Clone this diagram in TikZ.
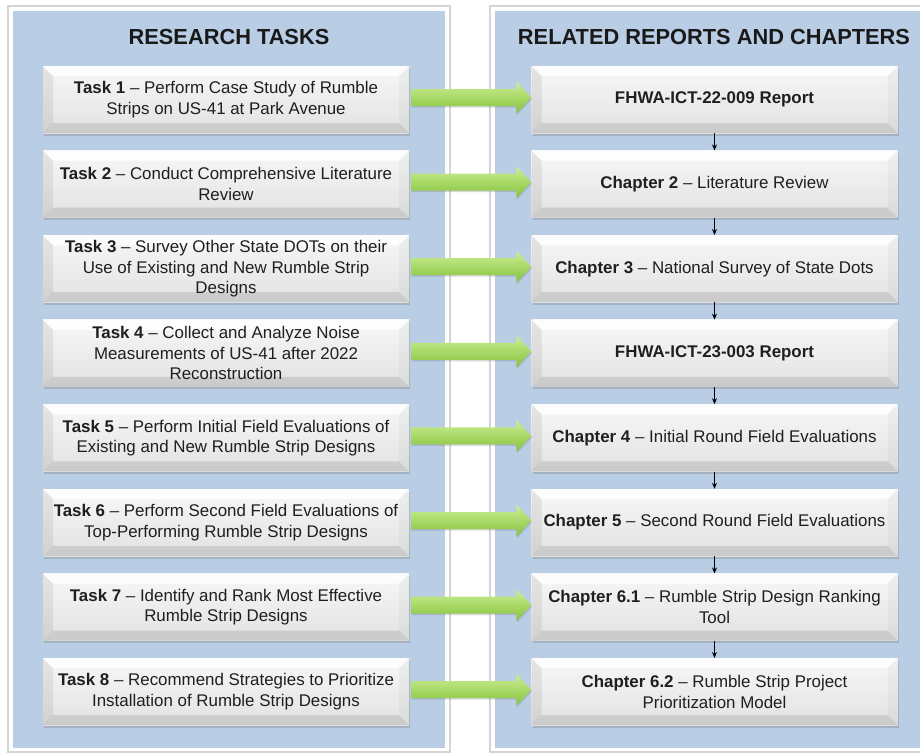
\documentclass[tikz,border=0pt]{standalone}
\usepackage{fontspec}
\setmainfont{Liberation Sans}
\usetikzlibrary{calc,shadows,arrows.meta}

\definecolor{panelblue}{HTML}{B9CDE5}
\definecolor{framegray}{HTML}{D4D4D4}
\definecolor{boxtop}{HTML}{F7F7F7}
\definecolor{boxbot}{HTML}{E2E2E2}
\definecolor{arrowlight}{HTML}{CDEF95}
\definecolor{arrowdark}{HTML}{84C23A}

\tikzset{
  frame/.style={fill=white, draw=framegray, line width=1.2pt},
  panel/.style={fill=panelblue, draw=none},
  heading/.style={font=\bfseries\fontsize{21.8}{26}\selectfont, text=black!90, inner sep=0pt},
  bevelbox/.style={
    minimum width=366pt, minimum height=67pt, inner sep=0pt, align=center,
    text=black!88, font=\fontsize{16.9}{20.5}\selectfont,
    top color=boxtop, bottom color=boxbot,
    drop shadow={shadow xshift=1pt, shadow yshift=-2.5pt, opacity=0.35},
    path picture={
      \fill[white, opacity=0.85]
        (path picture bounding box.north west) -- (path picture bounding box.north east)
        -- ([shift={(-10pt,-10pt)}]path picture bounding box.north east)
        -- ([shift={(10pt,-10pt)}]path picture bounding box.north west) -- cycle;
      \fill[black, opacity=0.07]
        (path picture bounding box.north west) -- (path picture bounding box.south west)
        -- ([shift={(10pt,10pt)}]path picture bounding box.south west)
        -- ([shift={(10pt,-10pt)}]path picture bounding box.north west) -- cycle;
      \fill[black, opacity=0.03]
        (path picture bounding box.north east) -- (path picture bounding box.south east)
        -- ([shift={(-10pt,10pt)}]path picture bounding box.south east)
        -- ([shift={(-10pt,-10pt)}]path picture bounding box.north east) -- cycle;
      \fill[black, opacity=0.10]
        (path picture bounding box.south west) -- (path picture bounding box.south east)
        -- ([shift={(-10pt,10pt)}]path picture bounding box.south east)
        -- ([shift={(10pt,10pt)}]path picture bounding box.south west) -- cycle;
    }},
  fatarrow/.style={
    top color=arrowlight, bottom color=arrowdark, draw=none,
    drop shadow={shadow xshift=0.8pt, shadow yshift=-1.5pt, opacity=0.3},
    to path={let \p1=(\tikztostart), \p2=(\tikztotarget) in
      (\x1+2pt,\y1+10.5pt) -- (\x2-15pt,\y1+10.5pt) -- (\x2-15pt,\y1+18pt)
      -- (\x2,\y1+2pt) -- (\x2-15pt,\y1-14pt) -- (\x2-15pt,\y1-6.5pt)
      -- (\x1+2pt,\y1-6.5pt) -- cycle}},
  steplink/.style={-{Stealth[length=6pt,width=5pt]}, line width=0.9pt, black},
}

\begin{document}
\begin{tikzpicture}[x=1pt, y=-1pt]
  \clip (0,0) rectangle (920,753);
  \fill[white] (0,0) rectangle (920,753);

  % column backgrounds
  \draw[frame] (8,6) rectangle (450,752);
  \draw[frame] (490,6) rectangle (930,752);
  \fill[panel] (13,11) rectangle (445,748);
  \fill[panel] (495,11) rectangle (930,748);

  % column headings
  \node[heading] (hleft)  at (229,37) {RESEARCH TASKS};
  \node[heading] (hright) at (714,37) {RELATED REPORTS AND CHAPTERS};

  % research tasks
  \node[bevelbox] (t1) at (226,99.5)  {\textbf{Task 1} – Perform Case Study of Rumble\\Strips on US-41 at Park Avenue};
  \node[bevelbox] (t2) at (226,184.1) {\textbf{Task 2} – Conduct Comprehensive Literature\\Review};
  \node[bevelbox] (t3) at (226,268.7) {\textbf{Task 3} – Survey Other State DOTs on their\\Use of Existing and New Rumble Strip\\Designs};
  \node[bevelbox] (t4) at (226,353.3) {\textbf{Task 4} – Collect and Analyze Noise\\Measurements of US-41 after 2022\\Reconstruction};
  \node[bevelbox] (t5) at (226,437.9) {\textbf{Task 5} – Perform Initial Field Evaluations of\\Existing and New Rumble Strip Designs};
  \node[bevelbox] (t6) at (226,522.5) {\textbf{Task 6} – Perform Second Field Evaluations of\\Top-Performing Rumble Strip Designs};
  \node[bevelbox] (t7) at (226,607.1) {\textbf{Task 7} – Identify and Rank Most Effective\\Rumble Strip Designs};
  \node[bevelbox] (t8) at (226,691.7) {\textbf{Task 8} – Recommend Strategies to Prioritize\\Installation of Rumble Strip Designs};

  % reports and chapters
  \node[bevelbox] (r1) at (714.5,99.5)  {\textbf{FHWA-ICT-22-009 Report}};
  \node[bevelbox] (r2) at (714.5,184.1) {\textbf{Chapter 2} – Literature Review};
  \node[bevelbox] (r3) at (714.5,268.7) {\textbf{Chapter 3} – National Survey of State Dots};
  \node[bevelbox] (r4) at (714.5,353.3) {\textbf{FHWA-ICT-23-003 Report}};
  \node[bevelbox] (r5) at (714.5,437.9) {\textbf{Chapter 4} – Initial Round Field Evaluations};
  \node[bevelbox] (r6) at (714.5,522.5) {\textbf{Chapter 5} – Second Round Field Evaluations};
  \node[bevelbox] (r7) at (714.5,607.1) {\textbf{Chapter 6.1} – Rumble Strip Design Ranking\\Tool};
  \node[bevelbox] (r8) at (714.5,691.7) {\textbf{Chapter 6.2} – Rumble Strip Project\\Prioritization Model};

  % task-to-report arrows
  \foreach \i in {1,...,8}
    \path[fatarrow] (t\i.east) to (r\i.west);

  % sequence of reports
  \foreach \i [evaluate=\i as \j using int(\i+1)] in {1,...,7}
    \draw[steplink] (r\i.south) -- (r\j.north);
\end{tikzpicture}
\end{document}
